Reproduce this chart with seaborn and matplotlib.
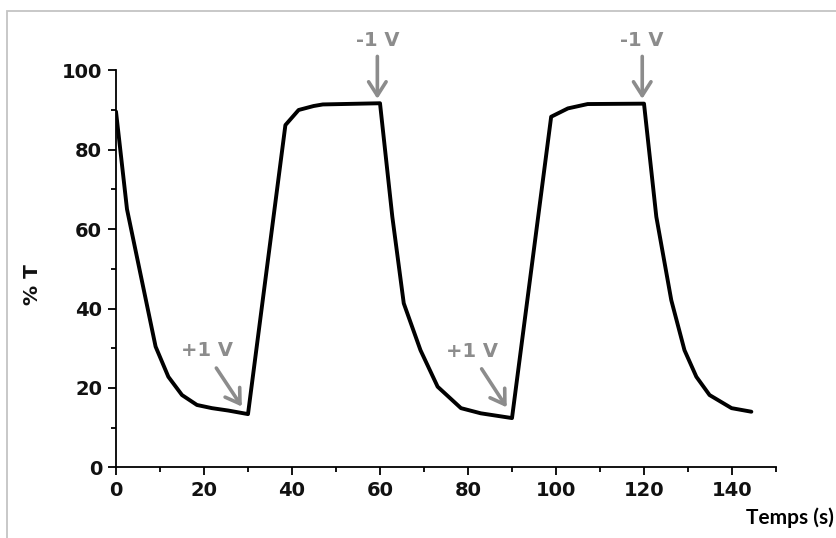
import matplotlib
matplotlib.use("Agg")
import matplotlib.pyplot as plt
import seaborn as sns
import numpy as np
import pandas as pd
from matplotlib.patches import Rectangle
from matplotlib.ticker import MultipleLocator

# transmittance response
temps = [0, 2.5, 9, 11.9, 15, 18.4, 21.8, 25.5, 30,
         38.5, 41.5, 44.9, 47, 60,
         62.8, 65.4, 69.2, 73.1, 78.4, 82.9, 90,
         98.9, 102.7, 107.2, 120,
         122.8, 126.2, 129.2, 131.9, 134.9, 139.9, 144.4]
transmission = [89.6, 65, 30.4, 22.8, 18.2, 15.7, 14.9, 14.3, 13.4,
                86.2, 90.0, 91.0, 91.4, 91.7,
                63.1, 41.3, 29.5, 20.3, 14.9, 13.6, 12.4,
                88.3, 90.4, 91.5, 91.6,
                63.1, 42.1, 29.5, 22.8, 18.2, 14.9, 14.0]

# voltage switch annotations: label, text position, arrow tail, arrow head
switch_labels = ["+1 V", "-1 V", "+1 V", "-1 V"]
switch_text_xy = [(20.6, 29.5), (59.6, 107.6), (81.0, 29.1), (119.6, 107.6)]
switch_tail_xy = [(22.8, 25.0), (59.4, 103.5), (83.1, 24.8), (119.6, 103.5)]
switch_head_xy = [(28.6, 15.3), (59.4, 92.8), (88.8, 15.1), (119.6, 92.8)]

df = pd.DataFrame({"Temps": temps, "T": transmission})

sns.set_theme(style="ticks")
plt.rcParams['font.family'] = ['DejaVu Sans']

fig = plt.figure(figsize=(8.37, 5.38), dpi=100)
ax = fig.add_axes([116 / 837, 70.7 / 538, 660 / 837, 397 / 538])

# light frame round the picture
fig.add_artist(Rectangle((7 / 837, -0.1), 1.2, 0.1 + (538 - 11) / 538,
                         transform=fig.transFigure, fill=False,
                         edgecolor="#c4c4c4", lw=1.3))

sns.lineplot(data=df, x="Temps", y="T", ax=ax, color="black", lw=2.8)

ax.set_xlim(0, 150)
ax.set_ylim(0, 100)
ax.set_xticks([0, 20, 40, 60, 80, 100, 120, 140])
ax.xaxis.set_minor_locator(MultipleLocator(10))
ax.yaxis.set_major_locator(MultipleLocator(20))
ax.yaxis.set_minor_locator(MultipleLocator(10))

sns.despine(ax=ax)
for side in ["left", "bottom"]:
    ax.spines[side].set_linewidth(1.3)
    ax.spines[side].set_color("black")

ax.tick_params(which="major", direction="out", length=6, width=1.3,
               color="black", labelsize=14, pad=4)
ax.tick_params(which="minor", direction="out", length=3.5, width=1.3,
               color="black")
for lab in ax.get_xticklabels() + ax.get_yticklabels():
    lab.set_fontweight("bold")
    lab.set_color("#111111")

ax.set_xlabel("")
ax.set_ylabel("% T", fontsize=14.5, fontweight="bold", color="#111111")
ax.yaxis.set_label_coords(-0.112, 0.46)

for lab, txy, tail, head in zip(switch_labels, switch_text_xy,
                                switch_tail_xy, switch_head_xy):
    ax.text(txy[0], txy[1], lab, ha="center", va="center", fontsize=14,
            fontweight="bold", color="#8c8c8c", clip_on=False)
    ax.annotate("", xy=head, xytext=tail, annotation_clip=False,
                arrowprops=dict(arrowstyle="->,head_length=0.55,head_width=0.35",
                                color="#8c8c8c", lw=2.6, mutation_scale=18,
                                shrinkA=0, shrinkB=0))

fig.text(834 / 837, 1 - 518 / 538, "Temps (s)", ha="right", va="center",
         fontsize=15, fontweight="bold", family=["Lato", "DejaVu Sans"],
         color="black")

fig.savefig("out.png", dpi=100)
